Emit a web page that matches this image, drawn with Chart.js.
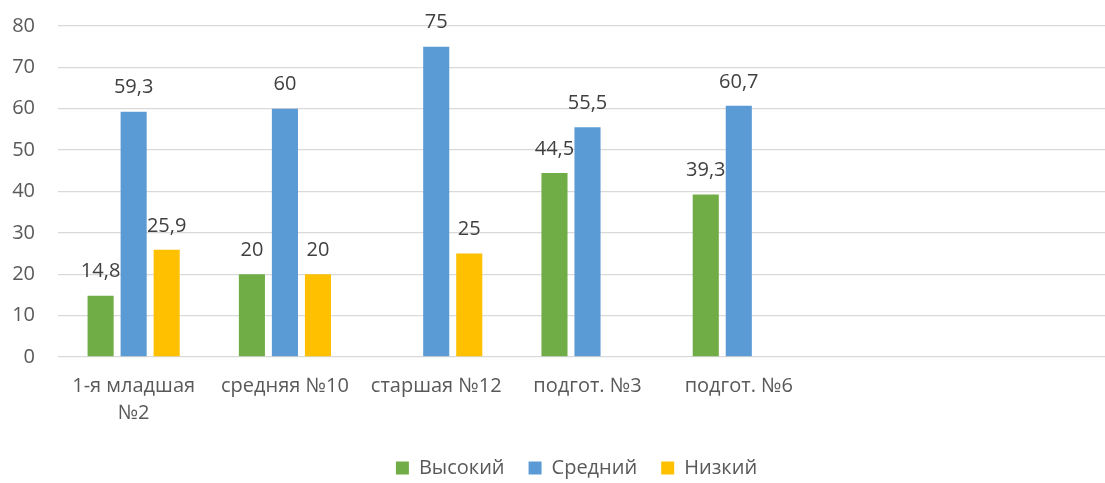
<!DOCTYPE html>
<html lang="ru">
<head>
<meta charset="utf-8">
<title>Уровни по группам</title>
<script src="https://cdn.jsdelivr.net/npm/chart.js@4.4.1/dist/chart.umd.min.js"></script>
<style>
    html, body { margin: 0; padding: 0; background: #ffffff; overflow: hidden; }
    #wrap { width: 1105px; height: 483px; overflow: hidden; }
</style>
</head>
<body>
<div id="wrap"><canvas id="levelsChart" width="1117" height="483"></canvas></div>
<script>
// Категории (две последние пустые, как в исходной диаграмме)
const groups = [['1-я младшая', '№2'], 'средняя №10', 'старшая №12', 'подгот. №3', 'подгот. №6', '', ''];

// Значения по уровням, %
const highValues = [14.8, 20, null, 44.5, 39.3, null, null];
const midValues = [59.3, 60, 75, 55.5, 60.7, null, null];
const lowValues = [25.9, 20, 25, null, null, null, null];

const seriesNames = ['Высокий', 'Средний', 'Низкий'];
const seriesColors = ['#70AD47', '#5B9BD5', '#FFC000'];

const yTicks = [0, 10, 20, 30, 40, 50, 60, 70, 80];

const fontFamily = "'Open Sans', 'DejaVu Sans', sans-serif";

// Подписи значений над столбцами
const valueLabels = {
    id: 'valueLabels',
    afterDatasetsDraw(chart) {
        const ctx = chart.ctx;
        ctx.save();
        ctx.font = '20px ' + fontFamily;
        ctx.fillStyle = '#404040';
        ctx.textAlign = 'center';
        ctx.textBaseline = 'middle';
        chart.data.datasets.forEach((ds, i) => {
            const meta = chart.getDatasetMeta(i);
            meta.data.forEach((bar, j) => {
                const v = ds.data[j];
                if (v === null || v === undefined) return;
                ctx.fillText(String(v).replace('.', ','), bar.x, bar.y - 24);
            });
        });
        ctx.restore();
    }
};

// Легенда чуть ниже и правее, как в Excel
const legendTweak = {
    id: 'legendTweak',
    beforeInit(chart) {
        const legend = chart.legend;
        const origFit = legend.fit;
        legend.fit = function () {
            origFit.call(this);
            this.height -= 5;
        };
        const origDraw = legend.draw;
        legend.draw = function () {
            const c = this.ctx;
            c.save();
            c.translate(18, 0);
            origDraw.call(this);
            c.restore();
        };
    }
};

const ctx = document.getElementById('levelsChart').getContext('2d');
new Chart(ctx, {
    type: 'bar',
    data: {
        labels: groups,
        datasets: [highValues, midValues, lowValues].map((values, i) => ({
            label: seriesNames[i],
            data: values,
            backgroundColor: seriesColors[i],
            borderWidth: 0,
            categoryPercentage: 0.655,
            barPercentage: 0.79
        }))
    },
    options: {
        responsive: false,
        animation: false,
        layout: { padding: { top: 26, right: 0, bottom: 0, left: 0 } },
        scales: {
            x: {
                grid: { display: false },
                border: { display: false },
                afterFit(scale) {
                    scale.height -= 1;
                },
                ticks: {
                    color: '#595959',
                    font: { size: 20, family: fontFamily, lineHeight: 1.35 },
                    padding: 8,
                    maxRotation: 0,
                    autoSkip: false
                }
            },
            y: {
                min: 0,
                max: 80,
                afterBuildTicks(scale) {
                    scale.ticks = yTicks.map(v => ({ value: v }));
                },
                afterFit(scale) {
                    scale.width = 58;
                    scale.paddingTop = 0;
                    scale.paddingBottom = 0;
                },
                grid: { color: '#D9D9D9', lineWidth: 1.3, drawTicks: false },
                border: { display: false },
                ticks: {
                    color: '#595959',
                    font: { size: 20, family: fontFamily },
                    padding: 23
                }
            }
        },
        plugins: {
            legend: {
                position: 'bottom',
                labels: {
                    color: '#595959',
                    font: { size: 20, family: fontFamily },
                    boxWidth: 13,
                    boxHeight: 13,
                    padding: 24
                }
            },
            tooltip: { enabled: false }
        }
    },
    plugins: [valueLabels, legendTweak]
});
</script>
</body>
</html>
